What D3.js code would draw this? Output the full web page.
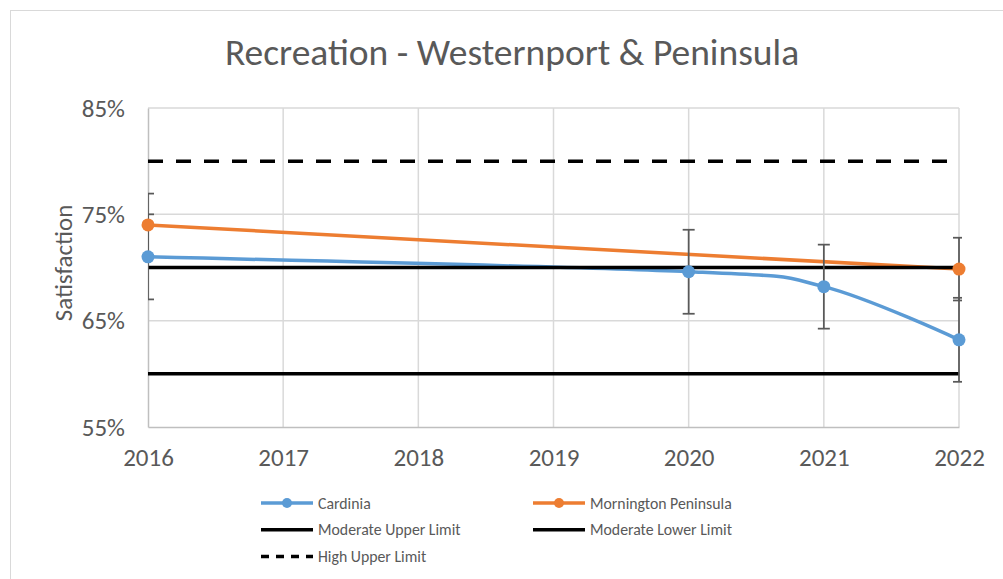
<!DOCTYPE html>
<html>
<head>
<meta charset="utf-8">
<script src="https://cdn.jsdelivr.net/npm/d3@7"></script>
<style>
  body { margin: 0; background: #fff; }
  svg { font-family: Carlito, Calibri, "Open Sans", sans-serif; }
</style>
</head>
<body>
<svg id="chart" width="1003" height="579"></svg>
<script>
// chart values
const years = [2016, 2017, 2018, 2019, 2020, 2021, 2022];
const yTicks = [55, 65, 75, 85];
const cardinia = [71.0, null, null, null, 69.6, 68.2, 63.2];
const cardiniaErr = [4.0, null, null, null, 3.95, 3.95, 3.95];
const mornington = [74.0, null, null, null, null, null, 69.85];
const morningtonErr = [2.95, null, null, null, null, null, 2.95];
const moderateUpper = [70, 70, 70, 70, 70, 70, 70];
const moderateLower = [60, 60, 60, 60, 60, 60, 60];
const highUpper = [80, 80, 80, 80, 80, 80, 80];

const svg = d3.select("#chart");

// outer chart border
svg.append("rect")
  .attr("x", 10.5).attr("y", 10.5)
  .attr("width", 1000).attr("height", 600)
  .attr("fill", "#fff")
  .attr("stroke", "#d9d9d9");

// plot area
const plot = {left: 148, right: 959, top: 108, bottom: 427};

const x = d3.scaleLinear().domain([2016, 2022]).range([plot.left, plot.right]);
const y = d3.scaleLinear().domain([55, 85]).range([plot.bottom, plot.top]);

svg.append("defs").append("clipPath").attr("id", "plotclip")
  .append("rect")
  .attr("x", plot.left).attr("y", plot.top - 10)
  .attr("width", 962 - plot.left).attr("height", plot.bottom - plot.top + 20);

// title
svg.append("text")
  .attr("x", 512).attr("y", 64.5)
  .attr("text-anchor", "middle")
  .attr("font-size", 37.5)
  .attr("fill", "#595959")
  .text("Recreation - Westernport & Peninsula");

// gridlines
const grid = svg.append("g");
grid.selectAll(".hgrid")
  .data(yTicks.slice(1))
  .join("line")
  .attr("x1", plot.left).attr("x2", plot.right)
  .attr("y1", d => y(d)).attr("y2", d => y(d))
  .attr("stroke", "#d9d9d9").attr("stroke-width", 1.5);
grid.selectAll(".vgrid")
  .data(years.slice(1))
  .join("line")
  .attr("x1", d => x(d)).attr("x2", d => x(d))
  .attr("y1", plot.top).attr("y2", plot.bottom)
  .attr("stroke", "#d9d9d9").attr("stroke-width", 1.5);

// axes
const xAxis = svg.append("g")
  .attr("transform", "translate(0," + plot.bottom + ")")
  .call(d3.axisBottom(x).tickValues(years).tickFormat(d3.format("d")).tickSize(0).tickPadding(0))
  .attr("font-family", null).attr("font-size", 25);
xAxis.select(".domain").attr("stroke", "#bfbfbf").attr("stroke-width", 1.5);
xAxis.selectAll("text").attr("fill", "#595959").attr("dy", null).attr("y", 38.7);

const yAxis = svg.append("g")
  .attr("transform", "translate(" + plot.left + ",0)")
  .call(d3.axisLeft(y).tickValues(yTicks).tickFormat(d => d + "%").tickSize(0).tickPadding(23))
  .attr("font-family", null).attr("font-size", 25);
yAxis.select(".domain").attr("stroke", "#bfbfbf").attr("stroke-width", 1.5);
yAxis.selectAll("text").attr("fill", "#595959");

// y axis title
svg.append("text")
  .attr("transform", "translate(72,263) rotate(-90)")
  .attr("text-anchor", "middle")
  .attr("font-size", 25)
  .attr("fill", "#595959")
  .text("Satisfaction");

const toPts = vals => years.map((yr, i) => ({yr, v: vals[i]})).filter(d => d.v != null);

const smooth = d3.line().x(d => x(d.yr)).y(d => y(d.v)).curve(d3.curveCardinal.tension(0));
const straight = d3.line().x(d => x(d.yr)).y(d => y(d.v));

const series = [
  {name: "Cardinia", vals: cardinia, err: cardiniaErr, color: "#5b9bd5"},
  {name: "Mornington Peninsula", vals: mornington, err: morningtonErr, color: "#ed7d31"}
];
const limits = [
  {name: "Moderate Upper Limit", vals: moderateUpper, dash: null},
  {name: "Moderate Lower Limit", vals: moderateLower, dash: null},
  {name: "High Upper Limit", vals: highUpper, dash: "15,13"}
];

const marks = svg.append("g").attr("clip-path", "url(#plotclip)");

series.forEach(s => {
  marks.append("path")
    .datum(toPts(s.vals))
    .attr("fill", "none")
    .attr("stroke", s.color)
    .attr("stroke-width", 3.5)
    .attr("stroke-linecap", "round")
    .attr("d", smooth);
});

limits.forEach(l => {
  marks.append("path")
    .datum(toPts(l.vals))
    .attr("fill", "none")
    .attr("stroke", "#000")
    .attr("stroke-width", 3.5)
    .attr("stroke-dasharray", l.dash)
    .attr("d", straight);
});

// error bars
series.forEach(s => {
  const pts = years.map((yr, i) => ({yr, v: s.vals[i], e: s.err[i]})).filter(d => d.v != null && d.e != null);
  const g = marks.append("g").attr("stroke", "#595959").attr("stroke-width", 1.75);
  g.selectAll(".bar").data(pts).join("line")
    .attr("x1", d => x(d.yr)).attr("x2", d => x(d.yr))
    .attr("y1", d => y(d.v + d.e)).attr("y2", d => y(d.v - d.e));
  g.selectAll(".capTop").data(pts).join("line")
    .attr("x1", d => x(d.yr) - 6).attr("x2", d => x(d.yr) + 6)
    .attr("y1", d => y(d.v + d.e)).attr("y2", d => y(d.v + d.e));
  g.selectAll(".capBot").data(pts).join("line")
    .attr("x1", d => x(d.yr) - 6).attr("x2", d => x(d.yr) + 6)
    .attr("y1", d => y(d.v - d.e)).attr("y2", d => y(d.v - d.e));
});

// markers
series.forEach(s => {
  svg.append("g").selectAll("circle")
    .data(toPts(s.vals))
    .join("circle")
    .attr("cx", d => x(d.yr)).attr("cy", d => y(d.v))
    .attr("r", 6.5)
    .attr("fill", s.color);
});

// legend
const legendItems = [
  {name: "Cardinia", color: "#5b9bd5", marker: true, dash: null, col: 0, row: 0},
  {name: "Mornington Peninsula", color: "#ed7d31", marker: true, dash: null, col: 1, row: 0},
  {name: "Moderate Upper Limit", color: "#000", marker: false, dash: null, col: 0, row: 1},
  {name: "Moderate Lower Limit", color: "#000", marker: false, dash: null, col: 1, row: 1},
  {name: "High Upper Limit", color: "#000", marker: false, dash: "8,7", col: 0, row: 2}
];
const legend = svg.append("g");
const lg = legend.selectAll("g").data(legendItems).join("g")
  .attr("transform", d => "translate(" + (261 + d.col * 272) + "," + (503 + d.row * 26.7) + ")");
lg.append("line")
  .attr("x1", 0).attr("x2", 52).attr("y1", 0).attr("y2", 0)
  .attr("stroke", d => d.color)
  .attr("stroke-width", 3.5)
  .attr("stroke-dasharray", d => d.dash);
lg.filter(d => d.marker).append("circle")
  .attr("cx", 26).attr("cy", 0).attr("r", 5)
  .attr("fill", d => d.color);
lg.append("text")
  .attr("x", 57).attr("y", 0).attr("dy", "0.35em")
  .attr("font-size", 15.8)
  .attr("fill", "#595959")
  .text(d => d.name);
</script>
</body>
</html>
